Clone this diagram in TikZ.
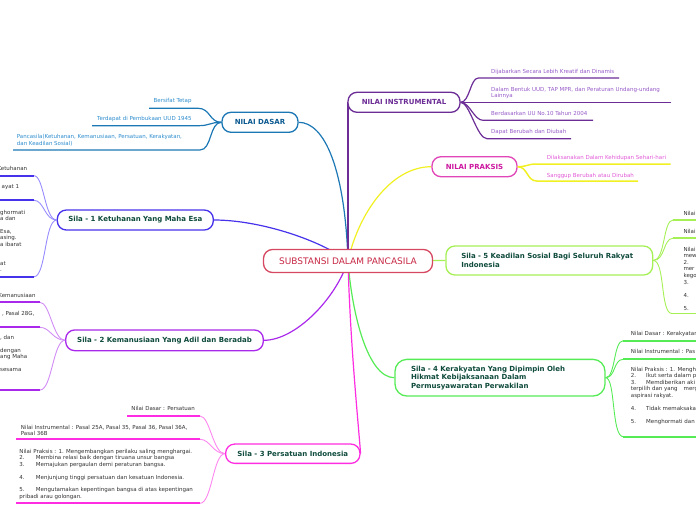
\documentclass[tikz,border=0pt]{standalone}
\usepackage{fontspec}
\setmainfont{DejaVu Sans}
\usetikzlibrary{backgrounds}
\definecolor{cC}{RGB}{214,72,98}
\definecolor{cCt}{RGB}{200,40,70}
\definecolor{cND}{RGB}{28,120,180}
\definecolor{cNDt}{RGB}{12,90,145}
\definecolor{cNDx}{RGB}{45,140,205}
\definecolor{cNI}{RGB}{108,45,150}
\definecolor{cNIx}{RGB}{150,90,200}
\definecolor{cNP}{RGB}{225,70,185}
\definecolor{cNPt}{RGB}{205,25,160}
\definecolor{cNPx}{RGB}{225,90,215}
\definecolor{cYel}{RGB}{240,240,35}
\definecolor{cS5}{RGB}{165,240,85}
\definecolor{cS4}{RGB}{85,235,85}
\definecolor{cS3}{RGB}{255,45,225}
\definecolor{cS3l}{RGB}{255,135,240}
\definecolor{cS2}{RGB}{170,40,235}
\definecolor{cS2l}{RGB}{210,140,245}
\definecolor{cS1}{RGB}{70,50,235}
\definecolor{cS1l}{RGB}{150,140,255}
\definecolor{cTtl}{RGB}{15,75,60}
\definecolor{cLf}{RGB}{50,50,50}
\newcommand\mytab[2]{\makebox[#1][l]{#2}}
\begin{document}
\begin{tikzpicture}[x=1pt,y=-1pt,
  mbox/.style={draw=#1, fill=white, line width=1.3pt, rounded corners=9pt, inner sep=0pt},
  ttl/.style={font=\fontsize{7}{8.4}\selectfont\bfseries},
  leaf/.style={font=\fontsize{5.5}{6.4}\selectfont, inner sep=0pt, text=#1},
  ul/.style={draw=#1, line width=1.8pt},
  lk/.style={draw=#1, line width=0.9pt},
  br/.style={draw=#1, line width=1.2pt}]
\useasboundingbox (0,0) rectangle (696,520);

% ---------- main nodes ----------
\node[mbox=cC, minimum width=169pt, minimum height=23pt, font=\fontsize{9}{11}\selectfont, text=cCt] (center) at (348,261) {SUBSTANSI DALAM PANCASILA};
\node[mbox=cND, minimum width=76pt, minimum height=20pt, ttl, text=cNDt] (nd) at (260,122.3) {NILAI DASAR};
\node[mbox=cNI, minimum width=112pt, minimum height=20pt, ttl, text=cNI] (ni) at (404,102.3) {NILAI INSTRUMENTAL};
\node[mbox=cNP, minimum width=85pt, minimum height=20pt, ttl, text=cNPt] (np) at (474.5,166.7) {NILAI PRAKSIS};
\node[mbox=cS5, minimum width=206.7pt, minimum height=29pt, ttl, text=cTtl, text width=176pt, align=left] (s5) at (549.3,260.5) {Sila - 5 Keadilan Sosial Bagi Seluruh Rakyat\\Indonesia};
\node[mbox=cS4, rounded corners=12pt, minimum width=210pt, minimum height=36.7pt, ttl, text=cTtl, text width=178pt, align=left] (s4) at (500,377.7) {Sila - 4 Kerakyatan Yang Dipimpin Oleh\\Hikmat Kebijaksanaan Dalam\\Permusyawaratan Perwakilan};
\node[mbox=cS3, minimum width=134.3pt, minimum height=19.3pt, ttl, text=cTtl] (s3) at (292.8,453.7) {Sila - 3 Persatuan Indonesia};
\node[mbox=cS2, minimum width=197.6pt, minimum height=20.7pt, ttl, text=cTtl] (s2) at (164.5,340.3) {Sila - 2 Kemanusiaan Yang Adil dan Beradab};
\node[mbox=cS1, minimum width=156pt, minimum height=20pt, ttl, text=cTtl] (s1) at (135.3,220) {Sila - 1 Ketuhanan Yang Maha Esa};

% ---------- connectors from the centre ----------
\begin{scope}[on background layer]
\draw[br=cS1] (center.center) .. controls (320,240) and (260,220) .. (s1.east);
\draw[br=cND] (center.center) .. controls (345,170) and (325,122.3) .. (nd.east);
\draw[br=cNI] (center.center) -- (center.center |- ni.west);
\draw[br=cYel] (center.center) .. controls (358,215) and (390,166.7) .. (np.west);
\draw[br=cS5] (center.center) -- (s5.west);
\draw[br=cS4] (center.center) .. controls (352,315) and (368,377.7) .. (s4.west);
\draw[br=cS3] (center.center) .. controls (350,340) and (358,420) .. (s3.east);
\draw[br=cS2] (center.center) .. controls (335,300) and (295,340.3) .. (s2.east);
\end{scope}

% ---------- NILAI DASAR ----------
\coordinate (nd1) at (198.3,108.3); \coordinate (nd1e) at (149,108.3);
\coordinate (nd2) at (198.3,125.7); \coordinate (nd2e) at (92,125.7);
\coordinate (nd3) at (200,150);     \coordinate (nd3e) at (13,150);
\draw[br=cND] (nd.west) .. controls +(-12,0) and +(12,0) .. (nd1) -- (nd1e);
\draw[br=cND] (nd.west) .. controls +(-12,0) and +(12,0) .. (nd2) -- (nd2e);
\draw[br=cND] (nd.west) .. controls +(-12,0) and +(12,0) .. (nd3) -- (nd3e);
\node[leaf=cNDx, anchor=base east] (nd1t) at (191.7,102.2) {Bersifat Tetap};
\node[leaf=cNDx, anchor=base east] (nd2t) at (191.7,120.5) {Terdapat di Pembukaan UUD 1945};
\node[leaf=cNDx, anchor=north west, align=left] (nd3t) at (16.7,134.1) {Pancasila(Ketuhanan, Kemanusiaan, Persatuan, Kerakyatan,\\[0.6pt]dan Keadilan Sosial)};

% ---------- NILAI INSTRUMENTAL ----------
\coordinate (ni1) at (478.3,78);    \coordinate (ni1e) at (619,78);
\coordinate (ni2e) at (671,102.3);
\coordinate (ni3) at (483,120.3);   \coordinate (ni3e) at (593,120.3);
\coordinate (ni4) at (487,138.7);   \coordinate (ni4e) at (571,138.7);
\draw[br=cNI] (ni.east) .. controls +(9,0) and +(-8,0) .. (ni1) -- (ni1e);
\draw[br=cNI] (ni.east) -- (ni2e);
\draw[br=cNI] (ni.east) .. controls +(9,0) and +(-9,0) .. (ni3) -- (ni3e);
\draw[br=cNI] (ni.east) .. controls +(9,0) and +(-10,0) .. (ni4) -- (ni4e);
\node[leaf=cNIx, anchor=base west] (ni1t) at (491,73.8) {Dijabarkan Secara Lebih Kreatif dan Dinamis};
\node[leaf=cNIx, anchor=north west, align=left] (ni2t) at (491,87.4) {Dalam Bentuk UUD, TAP MPR, dan Peraturan Undang-undang\\[-1pt]Lainnya};
\node[leaf=cNIx, anchor=base west] (ni3t) at (491,115.5) {Berdasarkan UU No.10 Tahun 2004};
\node[leaf=cNIx, anchor=base west] (ni4t) at (491,133.2) {Dapat Berubah dan Diubah};

% ---------- NILAI PRAKSIS ----------
\coordinate (np1) at (536.7,164);   \coordinate (np1e) at (670.7,164);
\coordinate (np2) at (536.7,181);   \coordinate (np2e) at (638,181);
\draw[br=cYel, line width=1.5pt] (np.east) .. controls +(10,0) and +(-10,0) .. (np1) -- (np1e);
\draw[br=cYel, line width=1.5pt] (np.east) .. controls +(10,0) and +(-10,0) .. (np2) -- (np2e);
\node[leaf=cNPx, anchor=base west] (np1t) at (546.7,159.8) {Dilaksanakan Dalam Kehidupan Sehari-hari};
\node[leaf=cNPx, anchor=base west] (np2t) at (546.7,177.5) {Sanggup Berubah atau Dirubah};

% ---------- Sila 5 ----------
\coordinate (s5a) at (673,220);     \coordinate (s5ae) at (700,220);
\coordinate (s5b) at (673,238.3);   \coordinate (s5be) at (700,238.3);
\coordinate (s5c) at (672,313.5);   \coordinate (s5ce) at (700,313.5);
\draw[lk=cS5] (s5.east) .. controls +(12,0) and +(-10,0) .. (s5a);
\draw[lk=cS5] (s5.east) .. controls +(12,0) and +(-10,0) .. (s5b);
\draw[lk=cS5] (s5.east) .. controls +(12,0) and +(-12,0) .. (s5c);
\draw[ul=cS5] (s5a) -- (s5ae);
\draw[ul=cS5] (s5b) -- (s5be);
\draw[ul=cS5] (s5c) -- (s5ce);
\node[leaf=cLf, anchor=base west] (s5at) at (683.3,215.5) {Nilai};
\node[leaf=cLf, anchor=base west] (s5bt) at (683.3,233.5) {Nilai};
\node[leaf=cLf, anchor=north west, align=left, font=\fontsize{5.5}{6.6}\selectfont] (s5ct) at (683.3,246.7) {Nilai\\mew\\2.\\mer\\kego\\3.\\\mbox{}\\4.\\\mbox{}\\5.};

% ---------- Sila 4 ----------
\coordinate (s4a) at (623.3,340.7); \coordinate (s4ae) at (700,340.7);
\coordinate (s4b) at (623.3,359.3); \coordinate (s4be) at (700,359.3);
\coordinate (s4c) at (623.3,436.7); \coordinate (s4ce) at (700,436.7);
\draw[lk=cS4] (s4.east) .. controls +(10,0) and +(-10,0) .. (s4a);
\draw[lk=cS4] (s4.east) .. controls +(10,0) and +(-10,0) .. (s4b);
\draw[lk=cS4] (s4.east) .. controls +(10,0) and +(-12,0) .. (s4c);
\draw[ul=cS4] (s4a) -- (s4ae);
\draw[ul=cS4] (s4b) -- (s4be);
\draw[ul=cS4] (s4c) -- (s4ce);
\node[leaf=cLf, anchor=base west] (s4at) at (630.7,335.5) {Nilai Dasar : Kerakyatan};
\node[leaf=cLf, anchor=base west] (s4bt) at (630.7,353.8) {Nilai Instrumental : Pas};
\node[leaf=cLf, anchor=north west, align=left, font=\fontsize{5.5}{6.5}\selectfont] (s4ct) at (630.7,366.7) {Nilai Praksis : 1. Mengh\\\mytab{15.3pt}{2.}Ikut serta dalam p\\\mytab{15.3pt}{3.}Memdiberikan aki\\terpilih dan yang\hspace{6pt}merg\\aspirasi rakyat.\\\mbox{}\\\mytab{15.3pt}{4.}Tidak memaksaka\\\mbox{}\\\mytab{15.3pt}{5.}Menghormati dan};

% ---------- Sila 3 ----------
\coordinate (s3a) at (200,416);     \coordinate (s3ae) at (126.7,416);
\coordinate (s3b) at (200,439.3);   \coordinate (s3be) at (16,439.3);
\coordinate (s3c) at (200,503.3);   \coordinate (s3ce) at (16,503.3);
\draw[lk=cS3l] (s3.west) .. controls +(-12,0) and +(10,0) .. (s3a);
\draw[lk=cS3l] (s3.west) .. controls +(-12,0) and +(10,0) .. (s3b);
\draw[lk=cS3l] (s3.west) .. controls +(-12,0) and +(12,0) .. (s3c);
\draw[ul=cS3] (s3a) -- (s3ae);
\draw[ul=cS3] (s3b) -- (s3be);
\draw[ul=cS3] (s3c) -- (s3ce);
\node[leaf=cLf, anchor=base east] (s3at) at (195,410.5) {Nilai Dasar : Persatuan};
\node[leaf=cLf, anchor=north west, align=left] (s3bt) at (20.7,424.7) {Nilai Instrumental : Pasal 25A, Pasal 35, Pasal 36, Pasal 36A,\\Pasal 36B};
\node[leaf=cLf, anchor=north west, align=left] (s3ct) at (19.3,449.1) {Nilai Praksis : 1. Mengembangkan perilaku saling menghargai.\\\mytab{16.5pt}{2.}Membina relasi baik dengan tiruana unsur bangsa\\\mytab{16.5pt}{3.}Memajukan pergaulan demi peraturan bangsa.\\\mbox{}\\\mytab{16.5pt}{4.}Menjunjung tinggi persatuan dan kesatuan Indonesia.\\\mbox{}\\\mytab{16.5pt}{5.}Mengutamakan kepentingan bangsa di atas kepentingan\\pribadi arau golongan.};

% ---------- Sila 2 ----------
\coordinate (s2a) at (40,302.3);    \coordinate (s2ae) at (-5,302.3);
\coordinate (s2b) at (40,327.3);    \coordinate (s2be) at (-5,327.3);
\coordinate (s2c) at (40,390);      \coordinate (s2ce) at (-5,390);
\draw[lk=cS2l] (s2.west) .. controls +(-12,0) and +(10,0) .. (s2a);
\draw[lk=cS2l] (s2.west) .. controls +(-12,0) and +(10,0) .. (s2b);
\draw[lk=cS2l] (s2.west) .. controls +(-12,0) and +(12,0) .. (s2c);
\draw[ul=cS2] (s2a) -- (s2ae);
\draw[ul=cS2] (s2b) -- (s2be);
\draw[ul=cS2] (s2c) -- (s2ce);
\node[leaf=cLf, anchor=base east] (s2at) at (35.7,297.5) {Kemanusiaan};
\node[leaf=cLf, anchor=base east] (s2bt) at (34.7,315.5) {, Pasal 28G,};
\node[leaf=cLf, anchor=north west, align=left, font=\fontsize{5.5}{6.5}\selectfont] (s2ct) at (0,335.1) {, dan\\\mbox{}\\dengan\\ang Maha\\\mbox{}\\sesama};

% ---------- Sila 1 ----------
\coordinate (s1a) at (34,175.7);    \coordinate (s1ae) at (-5,175.7);
\coordinate (s1b) at (34,200.3);    \coordinate (s1be) at (-5,200.3);
\coordinate (s1c) at (34,276.7);    \coordinate (s1ce) at (-5,276.7);
\draw[lk=cS1l] (s1.west) .. controls +(-12,0) and +(10,0) .. (s1a);
\draw[lk=cS1l] (s1.west) .. controls +(-12,0) and +(10,0) .. (s1b);
\draw[lk=cS1l] (s1.west) .. controls +(-12,0) and +(12,0) .. (s1c);
\draw[ul=cS1] (s1a) -- (s1ae);
\draw[ul=cS1] (s1b) -- (s1be);
\draw[ul=cS1] (s1c) -- (s1ce);
\node[leaf=cLf, anchor=base east] (s1at) at (27.3,170.5) {Ketuhanan};
\node[leaf=cLf, anchor=base east] (s1bt) at (19.3,188.8) {ayat 1};
\node[leaf=cLf, anchor=north west, align=left] (s1ct) at (0,209.7) {ghormati\\a dan\\\mbox{}\\Esa,\\asing.\\a ibarat\\\mbox{}\\\mbox{}\\at\\.};
\end{tikzpicture}
\end{document}
